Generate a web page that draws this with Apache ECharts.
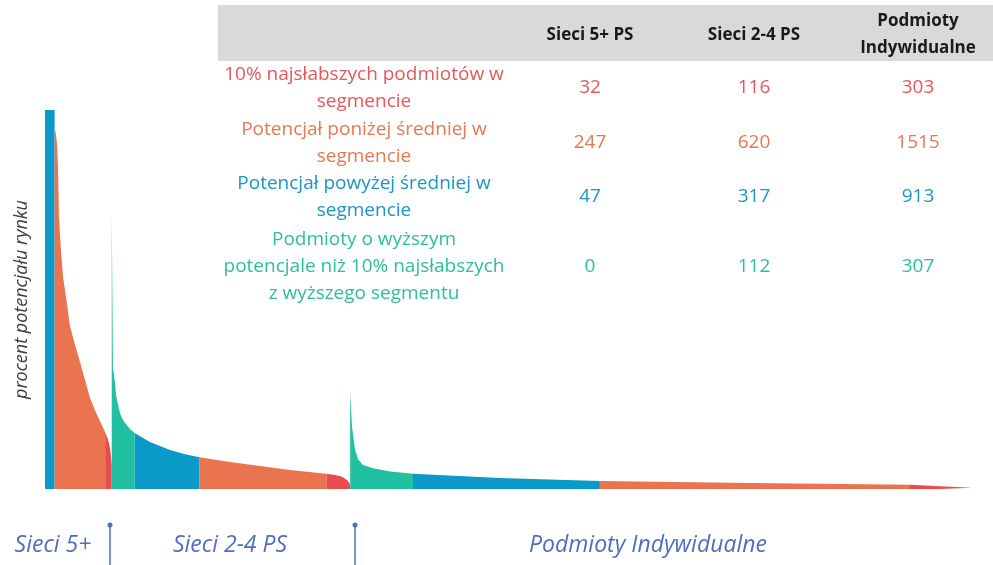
<!DOCTYPE html>
<html>
<head>
<meta charset="utf-8">
<script src="https://cdn.jsdelivr.net/npm/echarts@6/dist/echarts.min.js"></script>
<style>
  html, body { margin: 0; padding: 0; background: #fff; }
  #chart { width: 993px; height: 565px; }
</style>
</head>
<body>
<div id="chart"></div>
<script>
// table
const columns = ['Sieci 5+ PS', 'Sieci 2-4 PS', 'Podmioty\nIndywidualne']
const rowLabels = [
  '10% najsłabszych podmiotów w\nsegmencie',
  'Potencjał poniżej średniej w\nsegmencie',
  'Potencjał powyżej średniej w\nsegmencie',
  'Podmioty o wyższym\npotencjale niż 10% najsłabszych\nz wyższego segmentu'
]
const weakest10 = [32, 116, 303]
const belowAvg = [247, 620, 1515]
const aboveAvg = [47, 317, 913]
const higherThanWeakest = [0, 112, 307]

const bottomLabels = ['Sieci 5+', 'Sieci 2-4 PS', 'Podmioty Indywidualne']

// sorted market potential curves, [index inside group, % of max]
const sieci5Above = [[0, 100], [47, 100]]
const sieci5Below = [[0, 95.5], [7, 93.4], [12, 90.8], [17, 84.2], [21, 72], [31, 63], [41, 56], [56, 50.5], [75, 43], [100, 38], [124, 33.5], [148, 28.8], [173, 24], [197, 20.8], [222, 17.9], [247, 15.0]]
const sieci5Weakest = [[0, 15.0], [9, 13.7], [19, 12.1], [26, 9.8], [32, 6.3]]

const sieci24Higher = [[0, 73.1], [3, 73.1], [6, 32], [16, 28], [21, 24.8], [31, 22.2], [40, 20.1], [50, 18.7], [65, 17.4], [89, 15.8], [112, 14.8]]
const sieci24Above = [[0, 14.8], [75, 12.4], [173, 10.3], [246, 9.2], [317, 8.4]]
const sieci24Below = [[0, 8.4], [149, 7.1], [295, 6.1], [442, 5.0], [620, 4.0]]
const sieci24Weakest = [[0, 4.0], [42, 3.7], [76, 3.2], [101, 2.4], [112, 1.6], [116, 0.8]]

const indivHigher = [[0, 25.6], [5, 25.6], [9, 16.4], [24, 10.3], [40, 7.7], [63, 6.3], [112, 5.5], [195, 4.6], [307, 4.0]]
const indivAbove = [[0, 4.0], [425, 2.9], [913, 2.1]]
const indivBelow = [[0, 2.1], [734, 1.6], [1515, 1.1]]
const indivWeakest = [[0, 1.1], [147, 0.7], [303, 0.3]]

const BLUE = '#0a9ac9'
const ORANGE = '#ea744f'
const RED = '#e94b4f'
const GREEN = '#21c0a0'

const groups = [
  [['higher', []], ['above', sieci5Above], ['below', sieci5Below], ['weakest', sieci5Weakest]],
  [['higher', sieci24Higher], ['above', sieci24Above], ['below', sieci24Below], ['weakest', sieci24Weakest]],
  [['higher', indivHigher], ['above', indivAbove], ['below', indivBelow], ['weakest', indivWeakest]]
]
const counts = { higher: higherThanWeakest, above: aboveAvg, below: belowAvg, weakest: weakest10 }
const colors = { higher: GREEN, above: BLUE, below: ORANGE, weakest: RED }

const series = []
let offset = 0
groups.forEach((parts, g) => {
  parts.forEach(([key, curve]) => {
    const n = counts[key][g]
    if (n > 0) {
      const start = offset
      series.push({
        type: 'line',
        data: curve.map(p => [start + p[0], p[1]]),
        showSymbol: false,
        symbol: 'none',
        lineStyle: { width: 0 },
        areaStyle: { color: colors[key], opacity: 1 },
        itemStyle: { color: colors[key] },
        silent: true
      })
    }
    offset += n
  })
})
const total = offset

const FONT = '"Open Sans", sans-serif'
const rowColors = ['#e5575a', '#e8784f', '#1a96c5', '#2cbf9c']
const rowValues = [weakest10, belowAvg, aboveAvg, higherThanWeakest]
const rowY = [88, 143, 197, 267]
const colX = [590, 754, 918]

const graphic = [
  { type: 'rect', shape: { x: 218, y: 5, width: 775, height: 56 }, style: { fill: '#d9d9d9' } }
]
columns.forEach((c, i) => {
  graphic.push({
    type: 'text',
    style: { text: c, x: colX[i], y: 35, align: 'center', verticalAlign: 'middle', fill: '#1a1a1a', font: 'bold 17px ' + FONT, lineHeight: 27 }
  })
})
rowLabels.forEach((t, r) => {
  graphic.push({
    type: 'text',
    style: { text: t, x: 364, y: rowY[r], align: 'center', verticalAlign: 'middle', fill: rowColors[r], font: '19px ' + FONT, lineHeight: 27 }
  })
  rowValues[r].forEach((v, i) => {
    graphic.push({
      type: 'text',
      style: { text: String(v), x: colX[i], y: rowY[r], align: 'center', verticalAlign: 'middle', fill: rowColors[r], font: '19px ' + FONT }
    })
  })
})
const labelX = [53, 230, 648]
bottomLabels.forEach((t, i) => {
  graphic.push({
    type: 'text',
    style: { text: t, x: labelX[i], y: 545, align: 'center', verticalAlign: 'middle', fill: '#4f6ebd', font: 'italic 23px ' + FONT }
  })
})
;[110, 355].forEach(x => {
  graphic.push({ type: 'line', shape: { x1: x, y1: 525, x2: x, y2: 565 }, style: { stroke: '#4f6ebd', lineWidth: 1.5 } })
  graphic.push({ type: 'circle', shape: { cx: x, cy: 525, r: 2.5 }, style: { fill: '#4f6ebd' } })
})

const chart = echarts.init(document.getElementById('chart'))
chart.setOption({
  animation: false,
  grid: { left: 45, right: 21, top: 110, bottom: 76 },
  xAxis: {
    type: 'value',
    min: 0,
    max: total,
    show: false
  },
  yAxis: {
    type: 'value',
    min: 0,
    max: 100,
    name: 'procent potencjału rynku',
    nameLocation: 'middle',
    nameRotate: 90,
    nameGap: 14,
    nameTextStyle: { fontFamily: FONT, fontStyle: 'italic', fontSize: 18, color: '#3c3c3c' },
    axisLine: { show: false },
    axisTick: { show: false },
    axisLabel: { show: false },
    splitLine: { show: false }
  },
  series,
  graphic
})
</script>
</body>
</html>
